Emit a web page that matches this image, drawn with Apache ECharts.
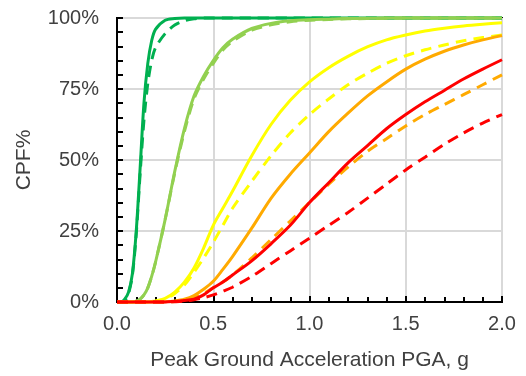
<!DOCTYPE html>
<html>
<head>
<meta charset="utf-8">
<script src="https://cdn.jsdelivr.net/npm/echarts@6/dist/echarts.min.js"></script>
<style>
  html, body { margin: 0; padding: 0; background: #fff; }
  #main-chart { width: 526px; height: 376px; }
</style>
</head>
<body>
<div id="main-chart"></div>
<script>
// PGA grid (g) shared by every curve
const pga = [0, 0.02, 0.04, 0.06, 0.08, 0.10, 0.12, 0.14, 0.16, 0.18, 0.20, 0.25, 0.30, 0.35, 0.40, 0.45, 0.50, 0.55, 0.60, 0.70, 0.80, 0.90, 1.0, 1.1, 1.2, 1.3, 1.4, 1.5, 1.6, 1.7, 1.8, 1.9, 2.0];

// CPF%, one value per pga point
const darkGreenSolid  = [0, 0, 1, 3.5, 10, 25, 47, 70, 84, 92, 96, 99.2, 99.8, 100, 100, 100, 100, 100, 100, 100, 100, 100, 100, 100, 100, 100, 100, 100, 100, 100, 100, 100, 100];
const darkGreenDashed = [0, 0, 0.5, 3, 9.5, 24, 45, 64, 77, 85, 89.5, 94.5, 97.5, 99, 99.7, 100, 100, 100, 100, 100, 100, 100, 100, 100, 100, 100, 100, 100, 100, 100, 100, 100, 100];
const lightGreenSolid  = [0, 0, 0, 0, 0, 0.3, 1, 2.5, 5, 9, 14, 29, 46, 61, 72.5, 79.5, 85, 89.5, 92.5, 96.3, 98.1, 99, 99.4, 99.6, 99.8, 99.9, 100, 100, 100, 100, 100, 100, 100];
const lightGreenDashed = [0, 0, 0, 0, 0, 0.3, 1, 2.5, 5, 9, 14, 29, 45.5, 60, 71.5, 78.5, 84, 88.7, 91.8, 95.7, 97.6, 98.7, 99.2, 99.5, 99.7, 99.8, 99.9, 100, 100, 100, 100, 100, 100];
const yellowSolid  = [0, 0, 0, 0, 0, 0, 0, 0, 0, 0.2, 0.4, 1.3, 3.5, 7, 12, 19, 27, 33, 39, 51.5, 62.5, 71, 77.5, 82.5, 86.5, 89.8, 92.3, 94, 95.4, 96.4, 97.2, 97.8, 98.3];
const yellowDashed = [0, 0, 0, 0, 0, 0, 0, 0, 0, 0.1, 0.3, 1, 3, 6, 10.5, 15.5, 21, 27, 33, 42.5, 51.5, 59.5, 66, 71.5, 76.5, 80.5, 84, 86.7, 88.8, 90.5, 92, 93.1, 94];
const orangeSolid  = [0, 0, 0, 0, 0, 0, 0, 0, 0, 0, 0, 0.1, 0.4, 1, 2.3, 4.5, 7.3, 11.5, 16, 26, 36.5, 45, 52.5, 60, 66.5, 72.5, 77.5, 82, 85.5, 88.3, 90.5, 92.3, 93.8];
const orangeDashed = [0, 0, 0, 0, 0, 0, 0, 0, 0, 0, 0, 0, 0.2, 0.7, 1.5, 3, 5, 7, 9.5, 15.5, 22, 28.5, 35, 41.5, 47.5, 53, 57.5, 62, 66, 69.5, 73, 76.5, 80];
const redSolid  = [0, 0, 0, 0, 0, 0, 0, 0, 0, 0, 0, 0, 0.2, 0.5, 1, 2.5, 5, 7, 9.5, 14.5, 20.5, 27, 35, 42, 49, 55, 61, 66, 70.5, 74.5, 78.5, 82, 85.3];
const redDashed = [0, 0, 0, 0, 0, 0, 0, 0, 0, 0, 0, 0, 0.1, 0.3, 0.8, 1.5, 2.5, 3.8, 5.2, 9, 13.5, 18, 22.5, 27, 31.5, 36.5, 41.5, 46.5, 51, 55.5, 59.5, 63, 66];

const xTicks = [0, 0.5, 1.0, 1.5, 2.0];
const yTicks = [0, 25, 50, 75, 100];

const curves = [
    { name: 'Dark green dashed', values: darkGreenDashed, color: '#00B050', dashed: true },
    { name: 'Dark green', values: darkGreenSolid, color: '#00B050', dashed: false },
    { name: 'Light green dashed', values: lightGreenDashed, color: '#92D050', dashed: true },
    { name: 'Light green', values: lightGreenSolid, color: '#92D050', dashed: false },
    { name: 'Yellow dashed', values: yellowDashed, color: '#FFFF00', dashed: true },
    { name: 'Yellow', values: yellowSolid, color: '#FFFF00', dashed: false },
    { name: 'Orange dashed', values: orangeDashed, color: '#FFAA00', dashed: true },
    { name: 'Orange', values: orangeSolid, color: '#FFAA00', dashed: false },
    { name: 'Red dashed', values: redDashed, color: '#FF0000', dashed: true },
    { name: 'Red', values: redSolid, color: '#FF0000', dashed: false },
];

const textColor = '#404040';
const fontFamily = 'Liberation Sans, Arial, sans-serif';

const chart = echarts.init(document.getElementById('main-chart'));
chart.setOption({
    animation: false,
    grid: {
        left: 117, right: 24, top: 18, bottom: 73,
        show: true, borderColor: '#000', borderWidth: 2
    },
    xAxis: {
        type: 'value',
        min: xTicks[0],
        max: xTicks[xTicks.length - 1],
        interval: 0.5,
        name: 'Peak Ground Acceleration PGA, g',
        nameLocation: 'middle',
        nameGap: 48,
        nameTextStyle: { color: textColor, fontSize: 21, fontFamily },
        axisLine: { lineStyle: { color: '#000', width: 2 } },
        axisTick: { inside: true, length: 6, lineStyle: { color: '#000', width: 2 } },
        minorTick: { show: true, splitNumber: 5, length: 5, lineStyle: { color: '#000', width: 2 } },
        axisLabel: { color: textColor, fontSize: 20, fontFamily, margin: 12, formatter: (v) => v.toFixed(1) },
        splitLine: { show: true, lineStyle: { color: '#D9D9D9', width: 2 } }
    },
    yAxis: {
        type: 'value',
        min: yTicks[0],
        max: yTicks[yTicks.length - 1],
        interval: 25,
        name: 'CPF%',
        nameLocation: 'middle',
        nameRotate: 90,
        nameGap: 82,
        nameTextStyle: { color: textColor, fontSize: 21, fontFamily },
        axisLine: { show: true, lineStyle: { color: '#000', width: 2 } },
        axisTick: { show: true, inside: true, length: 6, lineStyle: { color: '#000', width: 2 } },
        minorTick: { show: true, splitNumber: 5, length: 6, lineStyle: { color: '#000', width: 2 } },
        axisLabel: { color: textColor, fontSize: 20, fontFamily, margin: 18, formatter: '{value}%' },
        splitLine: { show: true, lineStyle: { color: '#D9D9D9', width: 2 } }
    },
    series: curves.map((c) => ({
        name: c.name,
        type: 'line',
        data: pga.map((x, i) => [x, c.values[i]]),
        smooth: 0.3,
        showSymbol: false,
        clip: false,
        lineStyle: { color: c.color, width: 3, type: c.dashed ? [11, 7] : 'solid' }
    }))
});
</script>
</body>
</html>
